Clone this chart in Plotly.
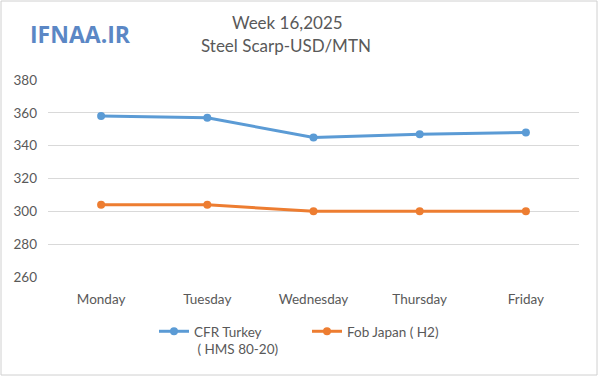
import plotly.graph_objects as go

days = ["Monday", "Tuesday", "Wednesday", "Thursday", "Friday"]
cfr_turkey = [358, 357, 345, 347, 348]
fob_japan = [304, 304, 300, 300, 300]
y_ticks = [260, 280, 300, 320, 340, 360, 380]

W, H = 600, 376
L, R, T, B = 48, 21, 80, 99
pw, ph = W - L - R, H - T - B

def px(x):
    return (x - L) / pw

def py(y):
    return 1 - (y - T) / ph

font = "Lato, 'Open Sans', sans-serif"
grey = "#595959"

fig = go.Figure()
fig.add_trace(go.Scatter(x=days, y=cfr_turkey, mode="lines+markers",
                         name="CFR Turkey<br> ( HMS 80-20)",
                         line=dict(color="#5B9BD5", width=3),
                         marker=dict(size=8, color="#5B9BD5")))
fig.add_trace(go.Scatter(x=days, y=fob_japan, mode="lines+markers",
                         name="Fob Japan ( H2)",
                         line=dict(color="#ED7D31", width=3),
                         marker=dict(size=8, color="#ED7D31")))

fig.update_layout(
    width=W, height=H,
    margin=dict(l=L, r=R, t=T, b=B, autoexpand=False),
    paper_bgcolor="white", plot_bgcolor="white",
    font=dict(family=font, color=grey, size=13.5),
    showlegend=True,
    legend=dict(orientation="h", x=px(154), y=py(316), xanchor="left", yanchor="top",
                valign="top", font=dict(size=13.5, color=grey),
                itemwidth=30, tracegroupgap=0, entrywidth=108),
    xaxis=dict(range=[-0.5, 4.5], showgrid=False, showline=False, ticks="",
               ticklabelstandoff=12,
               tickfont=dict(size=13.5, color=grey), fixedrange=True),
    yaxis=dict(range=[260, 380], tickvals=y_ticks, showgrid=True, gridcolor="#D9D9D9",
               gridwidth=1, zeroline=False, showline=False, ticks="",
               ticklabelstandoff=10,
               tickfont=dict(size=13.5, color=grey), fixedrange=True),
    annotations=[
        dict(text="Week 16,2025", x=px(287), y=py(22), xref="paper", yref="paper",
             xanchor="center", yanchor="middle",
             showarrow=False, font=dict(size=17, color=grey, family=font)),
        dict(text="Steel Scarp-USD/MTN", x=px(286), y=py(45), xref="paper", yref="paper",
             xanchor="center", yanchor="middle",
             showarrow=False, font=dict(size=17, color=grey, family=font)),
        dict(text="<b>IFNAA.IR</b>", x=px(80), y=py(34), xref="paper", yref="paper",
             xanchor="center", yanchor="middle",
             showarrow=False, font=dict(size=23, color="#5B87C5", family="'Open Sans', sans-serif")),
    ],
    shapes=[
        dict(type="rect", xref="paper", yref="paper", x0=px(1), x1=px(597), y0=py(1), y1=py(375),
             line=dict(color="#D0D0D0", width=1), fillcolor="rgba(0,0,0,0)", layer="above"),
    ],
)

fig.write_html("out.html", config={"displayModeBar": False},
               post_script="document.body.style.margin='0';")
